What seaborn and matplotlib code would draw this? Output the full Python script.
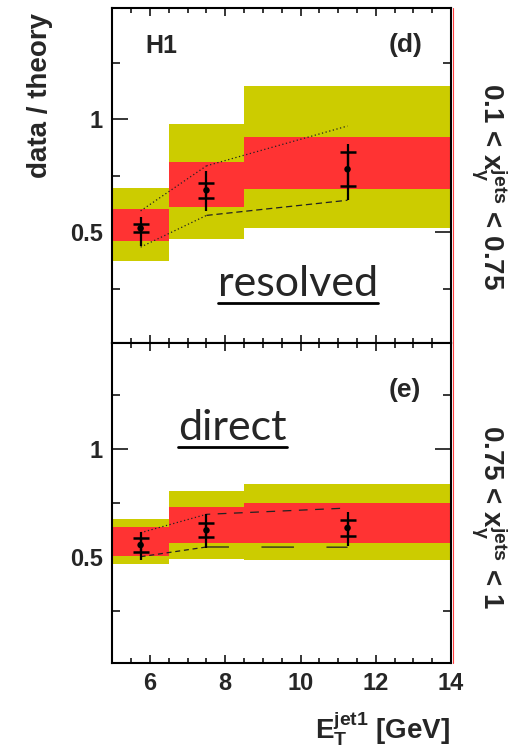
import numpy as np
import pandas as pd
import seaborn as sns
import matplotlib.pyplot as plt
from matplotlib.ticker import MultipleLocator, FuncFormatter
from matplotlib.lines import Line2D

# ---- data -------------------------------------------------------------
bin_edges = [5.0, 6.5, 8.5, 14.0]
et_points = [5.75, 7.5, 11.25]

# resolved region, 0.1 < x_gamma < 0.75
resolved_ratio = [0.518, 0.686, 0.779]
resolved_stat = [0.017, 0.034, 0.076]
resolved_tot_lo = [0.077, 0.091, 0.137]
resolved_tot_hi = [0.048, 0.084, 0.113]
resolved_band_outer_lo = [0.372, 0.469, 0.518]
resolved_band_outer_hi = [0.697, 0.978, 1.146]
resolved_band_inner_lo = [0.460, 0.610, 0.690]
resolved_band_inner_hi = [0.603, 0.810, 0.920]
resolved_var_up = [0.595, 0.794, 0.970]
resolved_var_dn = [0.435, 0.575, 0.642]

# direct region, 0.75 < x_gamma < 1
direct_ratio = [0.557, 0.625, 0.636]
direct_stat = [0.031, 0.032, 0.036]
direct_tot_lo = [0.070, 0.080, 0.085]
direct_tot_hi = [0.061, 0.074, 0.072]
direct_band_outer_lo = [0.471, 0.494, 0.488]
direct_band_outer_hi = [0.676, 0.806, 0.838]
direct_band_inner_lo = [0.506, 0.566, 0.566]
direct_band_inner_hi = [0.639, 0.733, 0.750]
direct_var_up = [0.614, 0.699, 0.728]
direct_var_dn = [0.503, 0.548, 0.547]

x_major_ticks = [6, 8, 10, 12, 14]

# ---- style ------------------------------------------------------------
sns.set_theme(style="ticks")
plt.rcParams["font.family"] = ["Liberation Sans", "DejaVu Sans"]
plt.rcParams["font.weight"] = "bold"
plt.rcParams["mathtext.fontset"] = "custom"
plt.rcParams["mathtext.rm"] = "Liberation Sans:bold"
plt.rcParams["mathtext.it"] = "Liberation Sans:bold"
plt.rcParams["mathtext.bf"] = "Liberation Sans:bold"
plt.rcParams["mathtext.sf"] = "Liberation Sans:bold"

YELLOW = "#cccc00"
RED = "#ff3333"

W, H = 513, 750
fig = plt.figure(figsize=(W / 100, H / 100), dpi=100)
fig.patch.set_facecolor("white")

x0, x1 = 112.4, 451.0
ax_top = fig.add_axes([x0 / W, (H - 343.3) / H, (x1 - x0) / W, (343.3 - 8.3) / H])
ax_bot = fig.add_axes([x0 / W, (H - 663.3) / H, (x1 - x0) / W, (663.3 - 343.3) / H])

widths = np.diff(bin_edges)
lefts = np.array(bin_edges[:-1])


def draw_panel(ax, ratio, stat, tot_lo, tot_hi, o_lo, o_hi, i_lo, i_hi,
               var_up, var_dn, var_styles):
    o_lo, o_hi, i_lo, i_hi = map(np.asarray, (o_lo, o_hi, i_lo, i_hi))
    ax.bar(lefts, o_hi - o_lo, bottom=o_lo, width=widths, align="edge",
           color=YELLOW, linewidth=0, zorder=1)
    ax.bar(lefts, i_hi - i_lo, bottom=i_lo, width=widths, align="edge",
           color=RED, linewidth=0, zorder=2)

    # theory variations: first segment and second segment styled separately
    for vals, (s1, s2) in zip((var_up, var_dn), var_styles):
        for seg, ls in ((slice(0, 2), s1), (slice(1, 3), s2)):
            seg_df = pd.DataFrame({"x": et_points[seg], "y": vals[seg]})
            sns.lineplot(data=seg_df, x="x", y="y", ax=ax, color="#222222",
                         linewidth=0.9, linestyle=ls, sort=False,
                         estimator=None, zorder=3)

    # total uncertainty
    ax.errorbar(et_points, ratio, yerr=[tot_lo, tot_hi], fmt="none",
                ecolor="black", elinewidth=1.6, capsize=0, zorder=4)
    # statistical uncertainty marked by crossbars
    ax.errorbar(et_points, ratio, yerr=stat, fmt="none", ecolor="black",
                elinewidth=1.6, capsize=6, capthick=1.8, zorder=4)
    pts = pd.DataFrame({"x": et_points, "y": ratio})
    sns.scatterplot(data=pts, x="x", y="y", ax=ax, color="black", s=22,
                    edgecolor="none", zorder=5)

    ax.set_xlim(5, 14)
    ax.set_ylim(0.01, 1.49)
    ax.set_xlabel("")
    ax.set_ylabel("")
    ax.set_xticks(x_major_ticks)
    ax.xaxis.set_minor_locator(MultipleLocator(0.5))
    ax.yaxis.set_major_locator(MultipleLocator(0.5))
    ax.yaxis.set_minor_locator(MultipleLocator(0.25))
    ax.yaxis.set_major_formatter(FuncFormatter(lambda v, p: f"{v:g}"))
    ax.tick_params(axis="y", which="major", direction="in", left=True,
                   right=True, length=11.5, width=1.3, labelsize=17, pad=7)
    ax.tick_params(axis="y", which="minor", direction="in", left=True,
                   right=True, length=5.8, width=1.3)
    ax.tick_params(axis="x", which="major", direction="in", top=True,
                   bottom=True, length=5.8, width=1.3, labelsize=17, pad=6)
    ax.tick_params(axis="x", which="minor", direction="in", top=True,
                   bottom=True, length=3.3, width=1.3)
    for lab in ax.get_xticklabels() + ax.get_yticklabels():
        lab.set_fontweight("bold")
    for sp in ax.spines.values():
        sp.set_linewidth(1.5)
        sp.set_color("black")
        sp.set_zorder(6)


draw_panel(ax_top, resolved_ratio, resolved_stat, resolved_tot_lo,
           resolved_tot_hi, resolved_band_outer_lo, resolved_band_outer_hi,
           resolved_band_inner_lo, resolved_band_inner_hi,
           resolved_var_up, resolved_var_dn,
           [((0, (1, 2)), (0, (1, 2))), ((0, (1, 2)), (0, (5, 3)))])
draw_panel(ax_bot, direct_ratio, direct_stat, direct_tot_lo,
           direct_tot_hi, direct_band_outer_lo, direct_band_outer_hi,
           direct_band_inner_lo, direct_band_inner_hi,
           direct_var_up, direct_var_dn,
           [((0, (1, 2)), (4, (7, 6))), ((0, (4, 3)), (8, (26, 26)))])

ax_top.tick_params(axis="x", which="both", labelbottom=False)

# panel annotations
ax_top.text(0.096, 0.867, "H1", transform=ax_top.transAxes, fontsize=18,
            fontweight="bold", ha="left", va="baseline")
ax_top.text(0.917, 0.870, "(d)", transform=ax_top.transAxes, fontsize=19,
            fontweight="bold", ha="right", va="baseline")
ax_bot.text(0.911, 0.833, "(e)", transform=ax_bot.transAxes, fontsize=19,
            fontweight="bold", ha="right", va="baseline")

t_res = ax_top.text(0.548, 0.141, "resolved", transform=ax_top.transAxes,
                    fontsize=31, family="Lato", fontweight="normal",
                    ha="center", va="baseline", zorder=7)
t_dir = ax_bot.text(0.355, 0.698, "direct", transform=ax_bot.transAxes,
                    fontsize=31, family="Lato", fontweight="normal",
                    ha="center", va="baseline", zorder=7)

# underline the region names
fig.canvas.draw()
renderer = fig.canvas.get_renderer()
for txt, ax, y_frac in ((t_res, ax_top, 0.121), (t_dir, ax_bot, 0.677)):
    bb = txt.get_window_extent(renderer=renderer)
    inv = ax.transAxes.inverted()
    (xa, _), (xb, _) = inv.transform([(bb.x0, bb.y0), (bb.x1, bb.y0)])
    ax.add_line(Line2D([xa, xb], [y_frac, y_frac], transform=ax.transAxes,
                       color="black", linewidth=2.0, zorder=7))

# axis titles
fig.text(40 / W, (H - 95) / H, "data / theory", rotation=90, fontsize=20,
         fontweight="bold", ha="center", va="center")
fig.text(450 / W, (H - 739) / H, r"E$_{T}^{jet1}$ [GeV]", fontsize=20,
         fontweight="bold", ha="right", va="baseline")
fig.text(490 / W, (H - 187) / H, r"0.1 < x$_{\gamma}^{jets}$ < 0.75",
         rotation=270, fontsize=20, fontweight="bold", ha="center",
         va="center")
fig.text(490 / W, (H - 517) / H, r"0.75 < x$_{\gamma}^{jets}$ < 1",
         rotation=270, fontsize=20, fontweight="bold", ha="center",
         va="center")

# thin red edge along the right frame
fig.add_artist(Line2D([452.6 / W, 452.6 / W], [(H - 663.3) / H, (H - 8.3) / H],
                      color="#ff4040", linewidth=0.8))

fig.savefig("out.png", dpi=100, facecolor="white")
